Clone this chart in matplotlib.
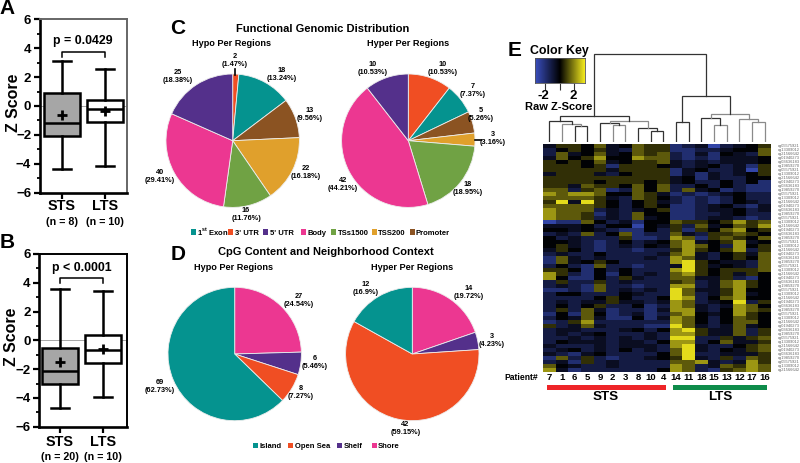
import numpy as np
import matplotlib
matplotlib.use('Agg')
import matplotlib.pyplot as plt
from matplotlib.colors import LinearSegmentedColormap
from matplotlib.patches import Rectangle

plt.rcParams['font.family'] = ['Liberation Sans', 'DejaVu Sans']
plt.rcParams['font.weight'] = 'bold'
plt.rcParams['mathtext.fontset'] = 'custom'
plt.rcParams['mathtext.bf'] = 'Liberation Sans:bold'

W, H = 800, 463

# ---------- panels A, B: box summaries ----------
box_groups = ['STS', 'LTS']
a_whislo = [-4.35, -4.15]
a_q1 = [-2.05, -1.1]
a_med = [-1.2, -0.2]
a_q3 = [0.9, 0.4]
a_whishi = [3.1, 2.55]
a_mean = [-0.65, -0.35]
b_whislo = [-4.7, -3.95]
b_q1 = [-3.0, -1.55]
b_med = [-2.1, -0.7]
b_q3 = [-0.55, 0.35]
b_whishi = [3.6, 3.45]
b_mean = [-1.5, -0.6]

# ---------- panels C, D: pies ----------
c_names = ['1$^{\\mathbf{st}}$ Exon', "3' UTR", "5' UTR", 'Body', 'TSs1500', 'TSS200', 'Promoter']
c_hypo = [2, 18, 13, 22, 16, 40, 25]
c_hypo_pct = ['1.47', '13.24', '9.56', '16.18', '11.76', '29.41', '18.38']
c_hyper = [10, 7, 5, 3, 18, 42, 10]
c_hyper_pct = ['10.53', '7.37', '5.26', '3.16', '18.95', '44.21', '10.53']
d_names = ['Island', 'Open Sea', 'Shelf', 'Shore']
d_hypo = [27, 6, 8, 69]
d_hypo_pct = ['24.54', '5.46', '7.27', '62.73']
d_hyper = [14, 3, 42, 12]
d_hyper_pct = ['19.72', '4.23', '59.15', '16.9']

TEAL, ORANGE, PURPLE, PINK = '#05938F', '#F04E23', '#54308B', '#EC3791'
GREEN, GOLD, BROWN = '#70A244', '#E0A02C', '#8B5322'

# ---------- panel E: heatmap, one letter per cell (a = strong blue ... . = black ... h = bright yellow) ----------
patients = ['7', '1', '6', '5', '9', '2', '3', '8', '10', '4', '14', '11', '18', '15', '13', '12', '17', '16']
level = {'a': -3, 'b': -2, 'c': -1.2, 'd': -0.6, '.': -0.1, 'e': 0.7, 'f': 1.3, 'g': 2.2, 'h': 3.2}
heat_rows = [
    'dee.fd.fee bcdacd.e',
    'c.e.edcfee bbccd..f',
    'cfd.fd.fef cbdb.dcf',
    'df.eg..gff cbcbddd.',
    'e.e.fd.eef dcdcddd.',
    'eee.ebeee. dcd.cdbe',
    'eeeeedeeee bd.ccdae',
    'deeedc.eee bdbdcd.e',
    'eeeeeeeeee d.bdcc..',
    'eeee.eee.e d.cc.c.b',
    'eedfee.f.f cc.c.cbb',
    'ffcefbcf.f cfd.bcbb',
    'gfggf..fed bcbcd.cc',
    'ffffedcfe. cbcbc.cc',
    'ehdhe.c.ed cbcbc.dc',
    'ffffe.c.e. bbcd.cbd',
    'gfffcdcd.e bbcdd.cd',
    'gffebdcf.. bbccd.cc',
    'gffecdcfd. bbcddcbc',
    'abbf.cdb.. fee.egef',
    'ddd.c..a.d ecfd.feg',
    '..d.dcbb.c ebe.fg.e',
    'cdcfc.fbcc fdceefe.',
    '.cdcccebbc gfbefe.f',
    '..dcbc.cd. fgd.egd.',
    '.edcbcdc.d fgf.cg.e',
    'de.cbccbcc ege.egce',
    'cdcc.ccccd fgdc.edf',
    'bfdcdcccdc gfdc.e.f',
    'bfd.e.cccc ghe.ddcf',
    'c.cbfccbcc dhed.dcf',
    'ee.b.c.ccc ghe.eeef',
    'gecb.b.cdc fge.ede.',
    'g.bb.cedcc ffddecb.',
    'ceccecdccc efcdfge.',
    'cdcbfccbcc ggcdfge.',
    'bbcbfcdcdc hfddeg..',
    'c..ccc.dcc hfcdegd.',
    'cccc.e.cc. hgc.fg..',
    'cdcddeddcd gfcd.hce',
    'c.c.ecc.bc gfdcdgf.',
    'cecfdbccbd ggdc.gfe',
    'b.bf.bcdbc fg.d.ge.',
    'c.dfdbb.bd gf.c.fe.',
    'bcegcccccc gf.c.ff.',
    'ecdfdcccbb hfdcdfd.',
    'cddcccd.c. gheddfce',
    'cdcd.cccdc ggeddfce',
    'ccdcdcdcdc hhccedef',
    'c.dddcddc. ggc.fdde',
    'dcccdcdddc ghdcc.ef',
    'cd.cdc.cdc fhdc.def',
    'dcbd.cccc. fhccddde',
    'bfcecbccd. ehdcecfe',
    'cdbecdcccc ffgdcdge',
    'f.dccdcccc gfcdfegf',
    'gdbcccccc. gfcbefgf',
]
heat = np.array([[level[ch] for ch in r.replace(' ', '')] for r in heat_rows], dtype=float)

# dendrogram merges: (child a, child b, height); leaves 0-17 in heatmap order, new nodes from 18 up
merges = [(2, 3, 16), (1, 18, 17.7), (0, 19, 21), (5, 6, 16.7), (4, 21, 18.4), (8, 9, 11),
          (7, 23, 13.4), (22, 24, 20.4), (20, 25, 25.4), (10, 11, 19.4), (13, 14, 16.4),
          (12, 28, 23.4), (16, 17, 19.4), (15, 30, 22.4), (29, 31, 28), (27, 32, 45.4), (26, 33, 87.4)]
grey_merges = [1, 3, 7, 10, 12, 13, 14]
gene_ids = ['cg05575921', 'cg13309012', 'cg21566642', 'cg01940273', 'cg03636183', 'cg19859270']

fig = plt.figure(figsize=(W / 100, H / 100), dpi=100)


def px_axes(x0, y0, x1, y1, **kw):
    return fig.add_axes([x0 / W, 1 - y1 / H, (x1 - x0) / W, (y1 - y0) / H], **kw)


# overlay in pixel coordinates for all the lettering
bg = px_axes(0, 0, W, H)
bg.set_xlim(0, W)
bg.set_ylim(H, 0)
bg.axis('off')
bg.set_zorder(5)
bg.patch.set_alpha(0)


def label(x, y, s, size, **kw):
    bg.text(x, y, s, fontsize=size, ha=kw.pop('ha', 'center'), va=kw.pop('va', 'center'),
            fontweight=kw.pop('fontweight', 'bold'), **kw)


def boxpanel(top, bottom, left, centers, stats, frame):
    ax = px_axes(left, top, 126.5, bottom)
    spacing = centers[1] - centers[0]
    ax.set_xlim(1 - (centers[0] - left) / spacing, 2 + (126.5 - centers[1]) / spacing)
    ax.set_ylim(-6, 6)
    ax.axhline(0, color='#999999', lw=0.6, zorder=0)
    lo, q1, med, q3, hi, mean = stats
    bxp = [dict(med=med[i], q1=q1[i], q3=q3[i], whislo=lo[i], whishi=hi[i], fliers=[]) for i in range(2)]
    parts = ax.bxp(bxp, positions=[1, 2], widths=0.82, patch_artist=True, showfliers=False,
                   boxprops=dict(lw=1.8, edgecolor='black'), medianprops=dict(lw=1.8, color='black'),
                   whiskerprops=dict(lw=1.8), capprops=dict(lw=1.8), capwidths=0.44)
    parts['boxes'][0].set_facecolor('#A6A6A6')
    parts['boxes'][1].set_facecolor('white')
    ax.plot([1, 2], mean, '+', color='black', ms=7, mew=2, zorder=6)
    ax.set_yticks(np.arange(-6, 7, 2))
    ax.set_yticks(np.arange(-5, 6, 2), minor=True)
    ax.tick_params(axis='y', which='major', length=4.5, width=1.6, pad=1.5, labelsize=9.5)
    ax.tick_params(axis='y', which='minor', length=2.5, width=1.3)
    ax.set_xticks([1, 2])
    ax.set_xticklabels([])
    ax.tick_params(axis='x', length=4, width=1.6)
    for name in ['left', 'bottom']:
        ax.spines[name].set_linewidth(1.9)
    for name in ['top', 'right']:
        ax.spines[name].set_linewidth(1.4)
        ax.spines[name].set_color(frame)
    return ax


boxpanel(19.3, 192.7, 39.5, [62, 105], (a_whislo, a_q1, a_med, a_q3, a_whishi, a_mean), '#666666')
boxpanel(254, 426.7, 39, [60, 103], (b_whislo, b_q1, b_med, b_q3, b_whishi, b_mean), 'black')

label(7, 8, 'A', 15)
label(7, 243, 'B', 15)
label(13, 103, 'Z Score', 11.4, rotation=90)
label(12, 337, 'Z Score', 11.4, rotation=90)
for x, y_name, y_n, name, n in [(62, 206, 222, box_groups[0], '(n = 8)'), (105, 206, 222, box_groups[1], '(n = 10)'),
                                (60, 441.7, 457, box_groups[0], '(n = 20)'), (103, 441.7, 457, box_groups[1], '(n = 10)')]:
    label(x, y_name, name, 10.4)
    label(x, y_n, n, 7.7)
bg.plot([62, 62, 105, 105], [56.7, 51.7, 51.7, 56.7], color='black', lw=1.1)
bg.plot([60, 60, 103, 103], [282.7, 277.7, 277.7, 282.7], color='black', lw=1.1)
label(83, 40.7, 'p = 0.0429', 8.9)
label(81.7, 267.7, 'p < 0.0001', 8.9)


def pie(cx, cy, values, colors):
    r = 66.7
    ax = px_axes(cx - r - 1, cy - r - 1, cx + r + 1, cy + r + 1)
    ax.pie(values, colors=colors, startangle=90, counterclock=False, radius=1,
           wedgeprops=dict(edgecolor='#EDEDED', linewidth=0.6))
    ax.set_xlim(-(r + 1) / r, (r + 1) / r)
    ax.set_ylim(-(r + 1) / r, (r + 1) / r)


c_colors = [ORANGE, TEAL, BROWN, GOLD, GREEN, PINK, PURPLE]
d_colors = [PINK, PURPLE, ORANGE, TEAL]
pie(232.7, 140.7, c_hypo, c_colors)
pie(408.3, 140.7, c_hyper, c_colors)
pie(234.7, 354, d_hypo, d_colors)
pie(412.3, 354, d_hyper, d_colors)


def pie_labels(values, pcts, spots):
    for v, p, (x, y) in zip(values, pcts, spots):
        label(x, y, f'{v}\n({p}%)', 5.3, linespacing=1.2)


pie_labels(c_hypo, c_hypo_pct, [(235, 60), (282, 75), (309.7, 114), (305.7, 172), (246, 214), (160, 177), (178, 77)])
pie_labels(c_hyper, c_hyper_pct, [(443, 69), (473, 91), (481, 114), (493, 138), (467.7, 189), (342.7, 184), (372.7, 68.7)])
pie_labels(d_hypo, d_hypo_pct, [(298.7, 300), (314.7, 362.7), (300.7, 393), (160, 387)])
pie_labels(d_hyper, d_hyper_pct, [(469, 293), (492, 340), (405.3, 429), (365.7, 288)])
bg.plot([235, 235], [69, 75], color='black', lw=1.2)
bg.plot([475, 481], [140, 140], color='black', lw=1.2)

label(178, 28, 'C', 15)
label(178, 254, 'D', 15)
label(323, 29, 'Functional Genomic Distribution', 8)
label(232, 44, 'Hypo Per Regions', 6.6)
label(408, 44, 'Hyper Per Regions', 6.6)
label(326, 252, 'CpG Content and Neighborhood Context', 8)
label(234, 268, 'Hypo Per Regions', 6.6)
label(412, 268, 'Hyper Per Regions', 6.6)


def legend(y, names, colors, swatch_x, text_x):
    for n, c, sx, tx in zip(names, colors, swatch_x, text_x):
        bg.add_patch(Rectangle((sx, y - 2.7), 5.4, 5.4, facecolor=c, edgecolor='none'))
        label(tx, y + 2.6, n, 5.5, ha='left', va='baseline')


legend(232, c_names, [TEAL, ORANGE, PURPLE, PINK, GREEN, GOLD, BROWN],
       [191, 228, 263, 301, 331, 372, 410], [197, 234.7, 270, 307.7, 337.7, 378, 416])
legend(445.7, d_names, [TEAL, ORANGE, PURPLE, PINK], [253, 288, 337, 372], [260, 295, 344, 378])

# panel E
blue_yellow = LinearSegmentedColormap.from_list('by', ['#3A4FC0', '#000000', '#F5EC1E'])
hm = px_axes(543, 144, 771, 372)
hm.imshow(heat, cmap=blue_yellow, vmin=-3.45, vmax=3.45, aspect='auto', interpolation='nearest')
hm.axis('off')

key = px_axes(535, 58.3, 584.7, 83.3)
key.imshow(np.linspace(-3.45, 3.45, 256)[None, :], cmap=blue_yellow, vmin=-3.45, vmax=3.45, aspect='auto',
           extent=[-3.45, 3.45, 0, 1])
key.set_yticks([])
key.set_xticks([-2, 0, 2])
key.set_xticklabels([])
key.tick_params(axis='x', length=5, width=0.8, color='#333333')
for s in key.spines.values():
    s.set_linewidth(0.6)
    s.set_color('#555555')
label(559.7, 51, 'Color Key', 8.9)
label(543, 96, '-2', 9.5)
label(573, 96, '2', 9.5)
label(559, 107, 'Raw Z-Score', 8)
label(515, 51, 'E', 15)

# dendrogram, drawn in the same column units as the heatmap
den = px_axes(543, 45, 771, 141.7)
den.set_xlim(-0.5, 17.5)
den.set_ylim(0, 96.7)
den.axis('off')
nodes = {i: (float(i), 0.0) for i in range(18)}
for k, (a, b, h) in enumerate(merges):
    xa, ha = nodes[a]
    xb, hb = nodes[b]
    shade = '#8a8a8a' if k in grey_merges else '#333333'
    den.plot([xa, xa, xb, xb], [ha, h, h, hb], color=shade, lw=0.9, solid_joinstyle='miter')
    nodes[18 + k] = ((xa + xb) / 2, h)

for i, p in enumerate(patients):
    label(549.3 + 12.67 * i, 377, p, 6.8)
label(538, 377, 'Patient#', 6.2, ha='right')
bg.add_patch(Rectangle((547, 385), 118.7, 5, facecolor='#EE2428', edgecolor='none'))
bg.add_patch(Rectangle((673, 385), 94, 5, facecolor='#0E8C4A', edgecolor='none'))
label(606, 397, box_groups[0], 9.6)
label(720, 397, box_groups[1], 9.6)

# row names are unreadably small in the source, only a grey speckle
for i in range(len(heat_rows)):
    label(778, 146 + 4 * i, gene_ids[i % len(gene_ids)], 2.9, color='#666666', ha='left', fontweight='normal')

fig.savefig('out.png', dpi=100)
